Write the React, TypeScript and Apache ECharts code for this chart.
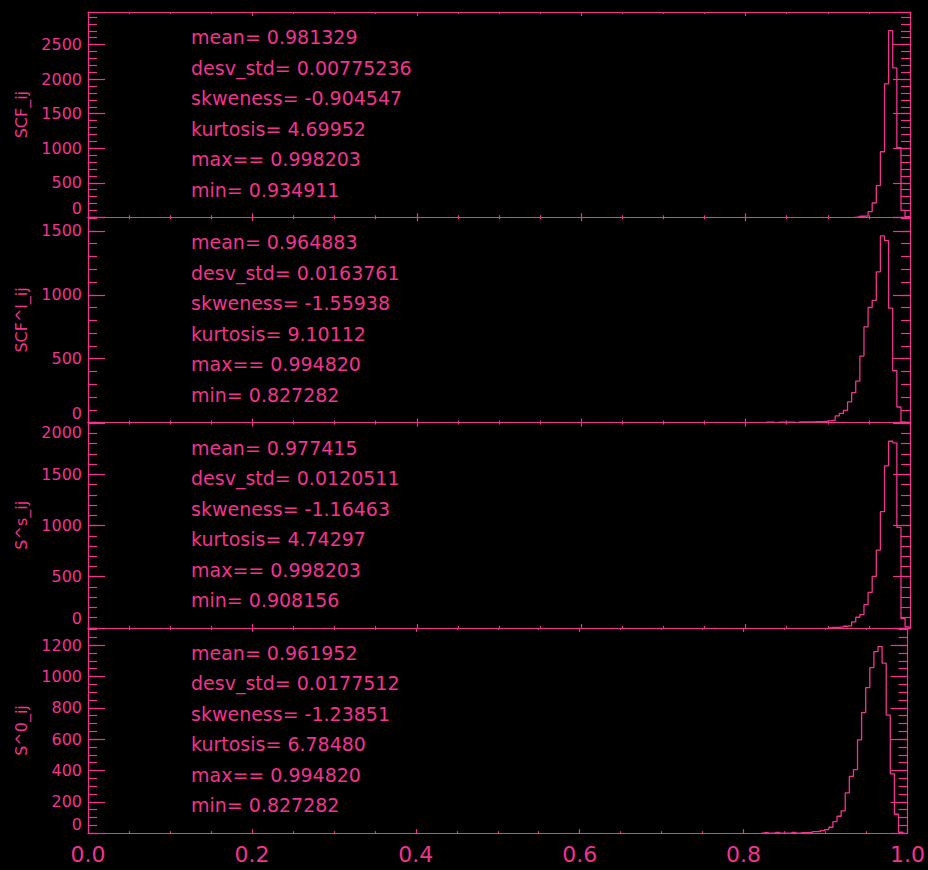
import React, { useEffect, useRef } from 'react';
import * as echarts from 'echarts';

// ---------- data ----------
const binWidth = 0.005;
const panelNames = ['SCF_ij', 'SCF^l_ij', 'S^s_ij', 'S^0_ij'];
const firstBinCenter = [0.9315, 0.8215, 0.9015, 0.8215];

const counts1 = [0, 4, 15, 18, 82, 207, 458, 949, 1932, 2702, 2163, 1007, 101, 8, 0];
const counts2 = [0, 3, 3, 0, 4, 4, 4, 4, 0, 5, 5, 6, 6, 8, 8, 10, 13, 18, 52, 72, 95, 162, 234, 325, 521, 750, 901, 956, 1180, 1461, 1424, 896, 406, 122, 4, 0];
const counts3 = [0, 5, 6, 8, 16, 19, 58, 104, 130, 227, 347, 503, 760, 1136, 1584, 1824, 1808, 983, 91, 10, 0];
const counts4 = [0, 3, 0, 0, 5, 0, 0, 0, 5, 0, 3, 4, 5, 10, 11, 17, 23, 38, 74, 108, 143, 257, 362, 406, 596, 770, 929, 1057, 1159, 1191, 1085, 753, 379, 121, 6, 0];
const allCounts = [counts1, counts2, counts3, counts4];

const yMax = [2972, 1607, 2006, 1310];
const yMajorStep = [500, 500, 500, 200];
const yMinorStep = [100, 100, 100, 50];

const xTickLabels = ['0.0', '0.2', '0.4', '0.6', '0.8', '1.0'];

const statLabels = ['mean=', 'desv_std=', 'skweness=', 'kurtosis=', 'max==', 'min='];
const stats1 = ['0.981329', '0.00775236', '-0.904547', '4.69952', '0.998203', '0.934911'];
const stats2 = ['0.964883', '0.0163761', '-1.55938', '9.10112', '0.994820', '0.827282'];
const stats3 = ['0.977415', '0.0120511', '-1.16463', '4.74297', '0.998203', '0.908156'];
const stats4 = ['0.961952', '0.0177512', '-1.23851', '6.78480', '0.994820', '0.827282'];
const allStats = [stats1, stats2, stats3, stats4];

// ---------- style / layout ----------
const COLOR = '#f0338f';
const FONT = 'DejaVu Sans, sans-serif';
const panelTops = [12, 217.3, 422.6, 627.9];
const panelH = 205.3;
const gridLeft = 88;
const gridRight = 18;

function buildOption() {
  const grid = panelTops.map((t) => ({ left: gridLeft, right: gridRight, top: t, height: panelH }));
  const lineStyle = { color: COLOR, width: 1.2 };

  const xAxis: any[] = [];
  panelTops.forEach((_, p) => {
    ['bottom', 'top'].forEach((pos) => {
      xAxis.push({
        gridIndex: p,
        type: 'value',
        min: 0,
        max: 1,
        interval: 0.2,
        position: pos,
        axisLine: { show: true, onZero: false, lineStyle },
        axisTick: { show: true, inside: true, length: 4, lineStyle },
        minorTick: { show: true, splitNumber: 4, length: 2, lineStyle },
        splitLine: { show: false },
        minorSplitLine: { show: false },
        axisLabel: {
          show: p === 3 && pos === 'bottom',
          color: COLOR,
          fontSize: 22,
          fontFamily: FONT,
          margin: 10,
          formatter: (v: number) => xTickLabels[Math.round(v / 0.2)] ?? '',
        },
      });
    });
  });

  const yAxis: any[] = [];
  panelTops.forEach((_, p) => {
    const step = yMajorStep[p];
    const base = {
      gridIndex: p,
      type: 'value',
      min: 0,
      max: yMax[p],
      splitLine: { show: false },
    };
    // left major (labels)
    yAxis.push({
      ...base,
      position: 'left',
      interval: step,
      axisLine: { show: true, onZero: false, lineStyle },
      axisTick: { show: true, inside: true, length: 17, lineStyle },
      axisLabel: {
        show: true,
        color: COLOR,
        fontSize: 16,
        fontFamily: FONT,
        margin: 6,
        formatter: (v: number) => {
          if (Math.abs(v % step) > 1e-6) return '';
          if (v === 0) return '{z|0}';
          if (yMax[p] - v < step * 0.1) return '{t|' + v + '}';
          return String(v);
        },
        rich: {
          z: { color: COLOR, fontSize: 16, fontFamily: FONT, padding: [0, 0, 18, 0] },
          t: { color: COLOR, fontSize: 16, fontFamily: FONT, padding: [18, 0, 0, 0] },
        },
      },
    });
    // right major
    yAxis.push({
      ...base,
      position: 'right',
      interval: step,
      axisLine: { show: true, onZero: false, lineStyle },
      axisTick: { show: true, inside: true, length: 17, lineStyle },
      axisLabel: { show: false },
    });
    // left minor
    yAxis.push({
      ...base,
      position: 'left',
      interval: yMinorStep[p],
      axisLine: { show: false, onZero: false },
      axisTick: { show: true, inside: true, length: 9, lineStyle },
      axisLabel: { show: false },
    });
    // right minor
    yAxis.push({
      ...base,
      position: 'right',
      interval: yMinorStep[p],
      axisLine: { show: false, onZero: false },
      axisTick: { show: true, inside: true, length: 9, lineStyle },
      axisLabel: { show: false },
    });
  });

  const series = allCounts.map((counts, p) => ({
    type: 'line',
    xAxisIndex: p * 2,
    yAxisIndex: p * 4,
    step: 'middle',
    showSymbol: false,
    symbol: 'none',
    clip: true,
    lineStyle: { color: COLOR, width: 1.3 },
    data: counts.map((c, i) => [firstBinCenter[p] + i * binWidth, c]),
  }));

  const elements: any[] = [];
  panelTops.forEach((t, p) => {
    statLabels.forEach((lab, i) => {
      elements.push({
        type: 'text',
        x: 191,
        y: t + 25 + i * 30.5,
        style: {
          text: lab + ' ' + allStats[p][i],
          fill: COLOR,
          fontSize: 19,
          fontFamily: FONT,
          align: 'left',
          verticalAlign: 'middle',
        },
      });
    });
    elements.push({
      type: 'text',
      x: 21,
      y: t + panelH / 2,
      rotation: Math.PI / 2,
      style: {
        text: panelNames[p],
        fill: COLOR,
        fontSize: 16,
        fontFamily: FONT,
        align: 'center',
        verticalAlign: 'middle',
      },
    });
  });

  return {
    backgroundColor: '#000',
    animation: false,
    grid,
    xAxis,
    yAxis,
    series,
    graphic: { elements },
  };
}

export default function App() {
  const ref = useRef<HTMLDivElement>(null);
  useEffect(() => {
    if (!ref.current) return;
    const chart = echarts.init(ref.current, null, { renderer: 'svg' });
    chart.setOption(buildOption() as any);
    return () => chart.dispose();
  }, []);
  return (
    <div
      ref={ref}
      style={{ position: 'absolute', left: 0, top: 0, width: 928, height: 870, background: '#000' }}
    />
  );
}
